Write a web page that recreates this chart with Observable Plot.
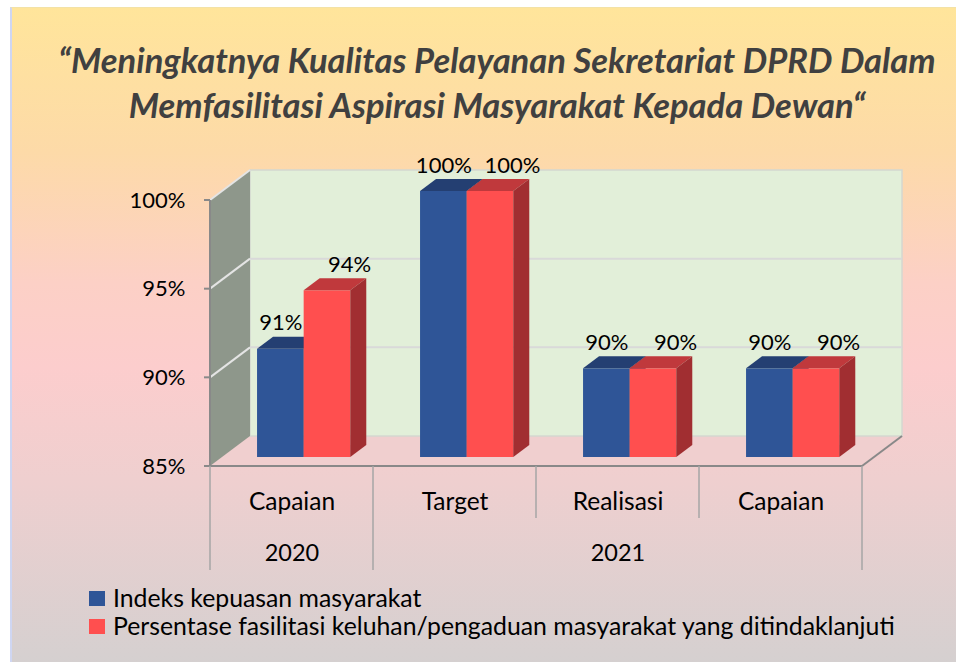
<!DOCTYPE html>
<html>
<head>
<meta charset="utf-8">
<script src="https://cdn.jsdelivr.net/npm/d3@7"></script>
<script src="https://cdn.jsdelivr.net/npm/@observablehq/plot@0.6"></script>
<style>
  html, body { margin: 0; padding: 0; background: #ffffff; width: 960px; height: 663px; overflow: hidden; }
  #frame { position: absolute; left: 10px; top: 7px; width: 944px; height: 654px;
    background: linear-gradient(to bottom, #FFE59B 0%, #FDDAA8 22%, #FCD0C6 42%, #FCCDCD 55%, #EFCFCF 72%, #D5D0D0 100%);
    border-top: 1px solid #F3E2A6; border-left: 2px solid #CFD6F2; }
  .title { position: absolute; left: 0; width: 994px; text-align: center; font-family: Lato, sans-serif;
    font-weight: bold; font-style: italic; font-size: 34.5px; color: #404040; line-height: 40px; }
  #chart { position: absolute; left: 0; top: 140px; }
  .leg { position: absolute; left: 89px; height: 28px; font-family: Lato, sans-serif; font-size: 24.8px; color: #000; line-height: 28px; }
  .leg span.sw { position: absolute; left: 0; top: 7px; width: 16px; height: 15px; }
  .leg span.tx { position: absolute; left: 24px; top: 0; white-space: nowrap; }
</style>
</head>
<body>
<div id="frame"></div>
<div class="title" style="top:40px">“Meningkatnya Kualitas Pelayanan Sekretariat DPRD Dalam</div>
<div class="title" style="top:85px">Memfasilitasi Aspirasi Masyarakat Kepada Dewan“</div>
<div id="chart"></div>
<div id="legend"></div>
<script>
// ---- data ----
const categories = ["Capaian", "Target", "Realisasi", "Capaian"];
const years = ["2020", "2021", "2021", "2021"];
const seriesNames = ["Indeks kepuasan masyarakat", "Persentase fasilitasi keluhan/pengaduan masyarakat yang ditindaklanjuti"];
const indeksValues = [91.1, 100, 90, 90];
const persentaseValues = [94.4, 100, 90, 90];
const yTicks = [85, 90, 95, 100];
const yDomain = [85, 100];
const seriesColors = ["#2F5597", "#FF4F4F"];
const seriesTop = ["#243F72", "#C0393C"];
const seriesSide = ["#1F3864", "#A12E31"];

// ---- derived table ----
const keys = categories.map((c, i) => c + " " + years[i]);
const rows = keys.flatMap((k, i) => [
  {key: k, series: 0, value: indeksValues[i]},
  {key: k, series: 1, value: persentaseValues[i]}
]);

// ---- 3D layout (pixels) ----
const DEPTH = [40, -30];          // full depth offset of back wall
const BAR_T0 = 0.3, BAR_T1 = 0.7; // bar depth slot
const GAP = 0.215, BARW = 0.286;  // fractions of band
const W = 960, H = 440, ML = 209, MR = 98, MT = 60, MB = 114;
const bandW = (W - ML - MR) / keys.length;
const fdx = DEPTH[0] * BAR_T0, fdy = DEPTH[1] * BAR_T0;

function wallsRender(index, scales) {
  const {x, y} = scales;
  const bw = x.bandwidth();
  const xL = x(keys[0]), xR = x(keys[keys.length - 1]) + bw;
  const yB = y(yDomain[0]), yT = y(yDomain[1]);
  const [DX, DY] = DEPTH;
  const g = d3.create("svg:g");
  const pts = a => a.map(p => p.join(",")).join(" ");
  // floor
  g.append("polygon").attr("points", pts([[xL, yB], [xR, yB], [xR + DX, yB + DY], [xL + DX, yB + DY]])).attr("fill", "#F0CFCF");
  // back wall
  g.append("rect").attr("x", xL + DX).attr("y", yT + DY).attr("width", xR - xL).attr("height", yB - yT)
    .attr("fill", "#E2EFD9").attr("stroke", "#D4D8D0").attr("stroke-width", 1.5);
  // left wall
  g.append("polygon").attr("points", pts([[xL, yB], [xL, yT], [xL + DX, yT + DY], [xL + DX, yB + DY]])).attr("fill", "#8E978B");
  for (const t of yTicks) {
    const yy = y(t);
    if (t !== yDomain[0] && t !== yDomain[1]) {
      g.append("line").attr("x1", xL + DX).attr("x2", xR + DX).attr("y1", yy + DY).attr("y2", yy + DY)
        .attr("stroke", "#D9D9D9").attr("stroke-width", 2);
    }
    if (t !== yDomain[0]) {
      g.append("line").attr("x1", xL).attr("x2", xL + DX).attr("y1", yy).attr("y2", yy + DY)
        .attr("stroke", "#E4E4E4").attr("stroke-width", 2);
    }
    g.append("line").attr("x1", xL - 6).attr("x2", xL).attr("y1", yy).attr("y2", yy)
      .attr("stroke", "#898989").attr("stroke-width", 2);
  }
  // axis & floor front edges
  g.append("line").attr("x1", xL).attr("x2", xL).attr("y1", yT).attr("y2", yB).attr("stroke", "#898989").attr("stroke-width", 2);
  g.append("line").attr("x1", xL).attr("x2", xR).attr("y1", yB).attr("y2", yB).attr("stroke", "#898989").attr("stroke-width", 2);
  g.append("line").attr("x1", xR).attr("x2", xR + DX).attr("y1", yB).attr("y2", yB + DY).attr("stroke", "#898989").attr("stroke-width", 2);
  return g.node();
}

function barsRender(index, scales) {
  const {x, y} = scales;
  const bw = x.bandwidth();
  const ddx = DEPTH[0] * (BAR_T1 - BAR_T0), ddy = DEPTH[1] * (BAR_T1 - BAR_T0);
  const g = d3.create("svg:g");
  const pts = a => a.map(p => p.join(",")).join(" ");
  for (const i of index) {
    const d = rows[i];
    const x0 = x(d.key) + bw * GAP + d.series * bw * BARW + fdx;
    const x1 = x0 + bw * BARW;
    const yTop = y(d.value) + fdy, yBot = y(yDomain[0]) + fdy;
    g.append("rect").attr("x", x0).attr("y", yTop).attr("width", x1 - x0).attr("height", yBot - yTop).attr("fill", seriesColors[d.series]);
    g.append("polygon").attr("points", pts([[x0, yTop], [x0 + ddx, yTop + ddy], [x1 + ddx, yTop + ddy], [x1, yTop]])).attr("fill", seriesTop[d.series]);
    g.append("polygon").attr("points", pts([[x1, yTop], [x1 + ddx, yTop + ddy], [x1 + ddx, yBot + ddy], [x1, yBot]])).attr("fill", seriesSide[d.series]);
  }
  return g.node();
}

function dividersRender(index, scales) {
  const {x, y} = scales;
  const bw = x.bandwidth();
  const yB = y(yDomain[0]);
  const g = d3.create("svg:g");
  for (let i = 0; i <= keys.length; i++) {
    const xx = i < keys.length ? x(keys[i]) : x(keys[keys.length - 1]) + bw;
    const yearEdge = i === 0 || i === keys.length || years[i] !== years[i - 1];
    g.append("line").attr("x1", xx).attr("x2", xx).attr("y1", yB).attr("y2", yB + (yearEdge ? 104 : 52))
      .attr("stroke", "#A6A6A6").attr("stroke-width", 1.5);
  }
  return g.node();
}

const blueLabelDx = bandW * (GAP + BARW / 2) + fdx - bandW / 2;
const redLabelDx = bandW * (GAP + BARW * 1.5) + fdx - bandW / 2 + 22;

const chart = Plot.plot({
  width: W, height: H,
  marginLeft: ML, marginRight: MR, marginTop: MT, marginBottom: MB,
  style: {background: "transparent", fontFamily: "Lato, sans-serif", color: "#000"},
  x: {type: "band", domain: keys, padding: 0, axis: null},
  y: {domain: yDomain, label: null},
  marks: [
    Plot.ruleY(yTicks, {y: d => d, render: wallsRender}),
    Plot.axisY({ticks: yTicks, tickFormat: d => d + "%", tickSize: 0, tickPadding: 24, fontSize: 22, label: null}),
    Plot.barY(rows, {x: "key", y1: () => yDomain[0], y2: "value", render: barsRender}),
    Plot.text(rows.filter(d => d.series === 0), {x: "key", y: "value", text: d => Math.round(d.value) + "%", dx: blueLabelDx, dy: -35, fontSize: 22, fill: "#000"}),
    Plot.text(rows.filter(d => d.series === 1), {x: "key", y: "value", text: d => Math.round(d.value) + "%", dx: redLabelDx, dy: -35, fontSize: 22, fill: "#000"}),
    Plot.ruleX(keys, {x: d => d, render: dividersRender}),
    Plot.text(keys, {x: d => d, y: () => yDomain[0], text: (d, i) => categories[i], dy: 36, fontSize: 24.5, fill: "#000"}),
    Plot.text(keys.filter((k, i) => i === 0 || i === 2), {x: d => d, y: () => yDomain[0], text: d => years[keys.indexOf(d)], dy: 87, fontSize: 23.5, fill: "#000"})
  ]
});
document.getElementById("chart").appendChild(chart);

// legend
const leg = document.getElementById("legend");
seriesNames.forEach((name, i) => {
  const div = document.createElement("div");
  div.className = "leg";
  div.style.top = (584 + i * 28) + "px";
  div.innerHTML = `<span class="sw" style="background:${seriesColors[i]}"></span><span class="tx"></span>`;
  div.querySelector(".tx").textContent = name;
  leg.appendChild(div);
});
</script>
</body>
</html>
